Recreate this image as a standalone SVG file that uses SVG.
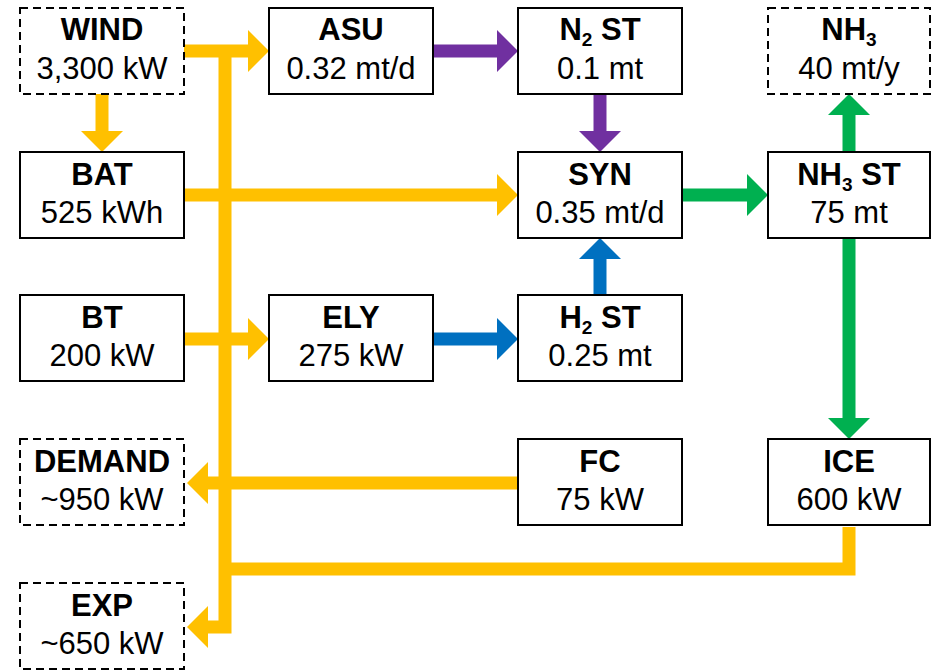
<svg xmlns="http://www.w3.org/2000/svg" width="932" height="671" viewBox="0 0 932 671">
<style>
.box{fill:#fff;stroke:#000;stroke-width:2}
.dash{stroke-dasharray:8,5}
text{font-family:"Liberation Sans",Arial,sans-serif;font-size:31px;fill:#000;text-anchor:middle}
.b{font-weight:bold}
.sub{font-size:19px}
.c{fill:none;stroke-width:13;stroke-linejoin:miter}
.y{stroke:#FFC000}
.p{stroke:#7030A0}
.bl{stroke:#0070C0}
.g{stroke:#00B050}
</style>
<defs>
<marker id="hy" markerUnits="userSpaceOnUse" markerWidth="22" markerHeight="42" refX="1" refY="21" orient="auto"><path d="M0,0 L21,21 L0,42 Z" fill="#FFC000"/></marker>
<marker id="hp" markerUnits="userSpaceOnUse" markerWidth="22" markerHeight="42" refX="1" refY="21" orient="auto"><path d="M0,0 L21,21 L0,42 Z" fill="#7030A0"/></marker>
<marker id="hb" markerUnits="userSpaceOnUse" markerWidth="22" markerHeight="42" refX="1" refY="21" orient="auto"><path d="M0,0 L21,21 L0,42 Z" fill="#0070C0"/></marker>
<marker id="hg" markerUnits="userSpaceOnUse" markerWidth="22" markerHeight="42" refX="1" refY="21" orient="auto"><path d="M0,0 L21,21 L0,42 Z" fill="#00B050"/></marker>
</defs>
<rect width="932" height="671" fill="#fff"/>
<g id="connectors">
<path class="c y" d="M225,51 V627 H207" marker-end="url(#hy)"/>
<path class="c y" d="M849,527 V569 H225"/>
<path class="c y" d="M518,483 H207" marker-end="url(#hy)"/>
<path class="c y" d="M184,51 H249" marker-end="url(#hy)"/>
<path class="c y" d="M184,195 H498" marker-end="url(#hy)"/>
<path class="c y" d="M184,339 H249" marker-end="url(#hy)"/>
<path class="c y" d="M102,94 V132" marker-end="url(#hy)"/>
<path class="c p" d="M433,51 H498" marker-end="url(#hp)"/>
<path class="c p" d="M600,94 V132" marker-end="url(#hp)"/>
<path class="c bl" d="M433,339 H498" marker-end="url(#hb)"/>
<path class="c bl" d="M600,295 V258" marker-end="url(#hb)"/>
<path class="c g" d="M683,195 H748" marker-end="url(#hg)"/>
<path class="c g" d="M849,152 V114" marker-end="url(#hg)"/>
<path class="c g" d="M849,238 V419" marker-end="url(#hg)"/>
</g>
<g id="wind"><rect class="box dash" x="20" y="8" width="164" height="86"/><text class="b" x="102" y="40">WIND</text><text x="102" y="79">3,300 kW</text></g>
<g id="asu"><rect class="box" x="269" y="8" width="164" height="86"/><text class="b" x="351" y="40">ASU</text><text x="351" y="79">0.32 mt/d</text></g>
<g id="n2st"><rect class="box" x="518" y="8" width="164" height="86"/><text class="b" x="600" y="40">N<tspan class="sub" dy="6">2</tspan><tspan dy="-6"> ST</tspan></text><text x="600" y="79">0.1 mt</text></g>
<g id="nh3"><rect class="box dash" x="768" y="8" width="162" height="86"/><text class="b" x="849" y="40">NH<tspan class="sub" dy="6">3</tspan></text><text x="849" y="79">40 mt/y</text></g>
<g id="bat"><rect class="box" x="20" y="152" width="164" height="86"/><text class="b" x="102" y="185">BAT</text><text x="102" y="223">525 kWh</text></g>
<g id="syn"><rect class="box" x="518" y="152" width="164" height="86"/><text class="b" x="600" y="185">SYN</text><text x="600" y="223">0.35 mt/d</text></g>
<g id="nh3st"><rect class="box" x="768" y="152" width="162" height="86"/><text class="b" x="849" y="185">NH<tspan class="sub" dy="6">3</tspan><tspan dy="-6"> ST</tspan></text><text x="849" y="223">75 mt</text></g>
<g id="bt"><rect class="box" x="20" y="295" width="164" height="86"/><text class="b" x="102" y="328">BT</text><text x="102" y="366">200 kW</text></g>
<g id="ely"><rect class="box" x="269" y="295" width="164" height="86"/><text class="b" x="351" y="328">ELY</text><text x="351" y="366">275 kW</text></g>
<g id="h2st"><rect class="box" x="518" y="295" width="164" height="86"/><text class="b" x="600" y="328">H<tspan class="sub" dy="6">2</tspan><tspan dy="-6"> ST</tspan></text><text x="600" y="366">0.25 mt</text></g>
<g id="demand"><rect class="box dash" x="20" y="439" width="164" height="86"/><text class="b" x="102" y="472">DEMAND</text><text x="102" y="510">~950 kW</text></g>
<g id="fc"><rect class="box" x="518" y="439" width="164" height="86"/><text class="b" x="600" y="472">FC</text><text x="600" y="510">75 kW</text></g>
<g id="ice"><rect class="box" x="768" y="439" width="162" height="86"/><text class="b" x="849" y="472">ICE</text><text x="849" y="510">600 kW</text></g>
<g id="exp"><rect class="box dash" x="20" y="583" width="164" height="86"/><text class="b" x="102" y="616">EXP</text><text x="102" y="654">~650 kW</text></g>
</svg>
